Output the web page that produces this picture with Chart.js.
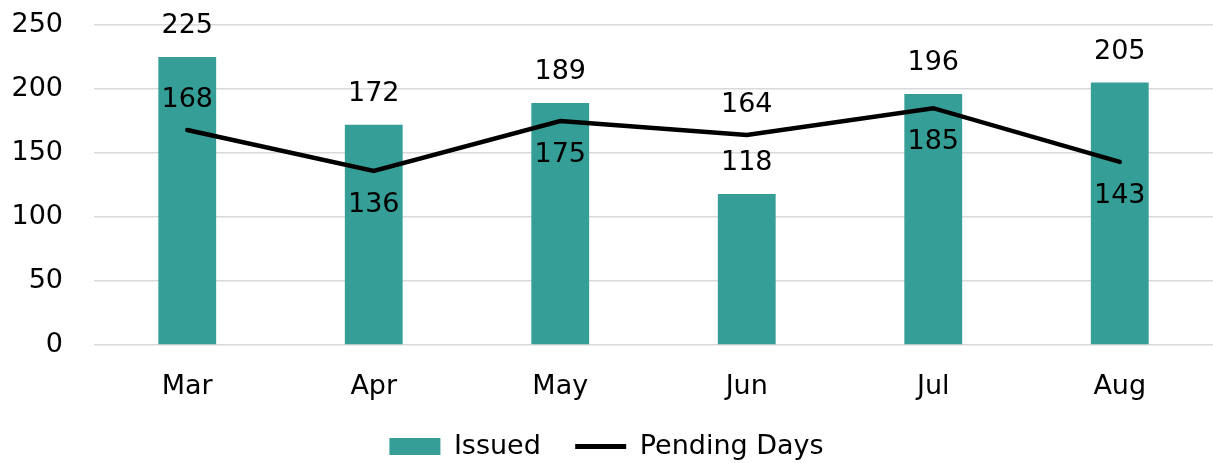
<!DOCTYPE html>
<html>
<head>
<meta charset="utf-8">
<script src="https://cdn.jsdelivr.net/npm/chart.js@4"></script>
<style>
  html, body { margin: 0; padding: 0; background: #fff; }
  #wrap { width: 1213px; height: 463px; }
</style>
</head>
<body>
<div id="wrap"><canvas id="grafico"></canvas></div>
<script>
const months = ['Mar', 'Apr', 'May', 'Jun', 'Jul', 'Aug'];
const issued = [225, 172, 189, 118, 196, 205];
const pendingDays = [168, 136, 175, 164, 185, 143];
const yTicks = [0, 50, 100, 150, 200, 250];

const teal = '#359e96';
const fontFam = '"DejaVu Sans", sans-serif';

// where each line label sits relative to its point
const lineLabelSide = ['above', 'below', 'below', 'above', 'below', 'below'];

const valueLabels = {
    id: 'valueLabels',
    afterDatasetsDraw(chart) {
        const c = chart.ctx;
        c.save();
        c.font = '27px ' + fontFam;
        c.fillStyle = '#000';
        c.textAlign = 'center';
        c.textBaseline = 'middle';
        chart.data.datasets.forEach(function (ds, i) {
            const meta = chart.getDatasetMeta(i);
            meta.data.forEach(function (el, j) {
                let y;
                if (ds.type === 'line') {
                    y = lineLabelSide[j] === 'above' ? el.y - 30 : el.y + 34;
                } else {
                    y = el.y - 31;
                }
                c.fillText(String(ds.data[j]), el.x, y);
            });
        });
        c.restore();
    }
};

const ctx = document.getElementById('grafico');

new Chart(ctx, {
    data: {
        labels: months,
        datasets: [{
            type: 'bar',
            label: 'Issued',
            data: issued,
            backgroundColor: teal,
            barPercentage: 0.62,
            categoryPercentage: 0.5,
            order: 2
        }, {
            type: 'line',
            label: 'Pending Days',
            data: pendingDays,
            borderColor: '#000',
            backgroundColor: '#000',
            borderWidth: 4.5,
            borderCapStyle: 'round',
            pointRadius: 0,
            tension: 0,
            order: 1
        }]
    },
    options: {
        responsive: true,
        maintainAspectRatio: false,
        animation: false,
        layout: {
            padding: { top: 25, right: 0, left: 0, bottom: -7 }
        },
        scales: {
            x: {
                grid: { display: false },
                border: { display: false },
                ticks: {
                    color: '#000',
                    padding: 18,
                    font: { family: fontFam, size: 27 }
                },
                afterFit: function (scale) { scale.height = 88; }
            },
            y: {
                min: 0,
                max: 250,
                afterBuildTicks: function (scale) {
                    scale.ticks = yTicks.map(function (v) { return { value: v }; });
                },
                grid: { color: '#d9d9d9', lineWidth: 1.5, drawTicks: false },
                border: { display: false },
                ticks: {
                    color: '#000',
                    padding: 31,
                    font: { family: fontFam, size: 27 }
                },
                afterFit: function (scale) {
                    scale.width = 94;
                    scale.paddingTop = 0;
                    scale.paddingBottom = 0;
                }
            }
        },
        plugins: {
            tooltip: { enabled: false },
            legend: {
                position: 'bottom',
                labels: {
                    color: '#000',
                    font: { family: fontFam, size: 27 },
                    usePointStyle: true,
                    pointStyleWidth: 51,
                    boxHeight: 17,
                    padding: 0,
                    sort: function (a, b) { return a.datasetIndex - b.datasetIndex; },
                    generateLabels: function (chart) {
                        const items = Chart.defaults.plugins.legend.labels.generateLabels(chart);
                        items.forEach(function (it) {
                            if (it.datasetIndex === 0) {
                                it.pointStyle = 'rect';
                                it.fillStyle = teal;
                                it.lineWidth = 0;
                                it.text = it.text + '    ';
                            } else {
                                it.pointStyle = 'line';
                                it.strokeStyle = '#000';
                                it.lineWidth = 5;
                            }
                        });
                        return items;
                    }
                }
            }
        }
    },
    plugins: [valueLabels]
});
</script>
</body>
</html>
